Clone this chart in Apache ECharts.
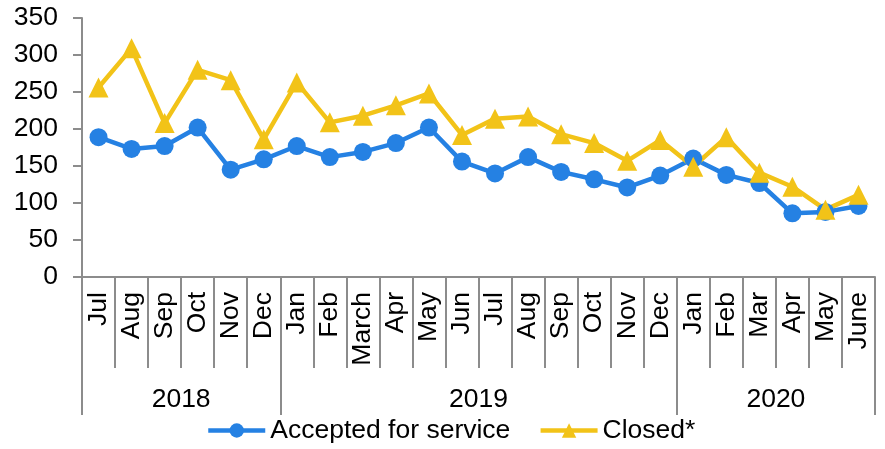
<!DOCTYPE html>
<html>
<head>
<meta charset="utf-8">
<script src="https://cdn.jsdelivr.net/npm/echarts@6/dist/echarts.min.js"></script>
<style>
  html, body { margin: 0; padding: 0; background: #fff; }
  #main { width: 885px; height: 449px; }
</style>
</head>
<body>
<div id="main"></div>
<script>
  var months = ['Jul', 'Aug', 'Sep', 'Oct', 'Nov', 'Dec',
    'Jan', 'Feb', 'March', 'Apr', 'May', 'Jun', 'Jul', 'Aug', 'Sep', 'Oct', 'Nov', 'Dec',
    'Jan', 'Feb', 'Mar', 'Apr', 'May', 'June'];
  var years = ['2018', '2019', '2020'];
  var yearBounds = [0, 6, 18, 24];   // month index where each year starts / ends
  var acceptedData = [189, 173, 177, 202, 145, 159, 177, 162, 169, 181, 202, 156,
    140, 162, 142, 132, 121, 137, 160, 138, 127, 86, 88, 96];
  // note: "closed" is taken by window.closed, so a longer name
  var closedData = [256, 309, 208, 280, 266, 186, 263, 209, 218, 232, 248, 192,
    214, 217, 193, 181, 157, 185, 149, 189, 141, 122, 91, 111];
  var yTicks = [0, 50, 100, 150, 200, 250, 300, 350];

  var font = 'Liberation Sans, Arial, sans-serif';
  var fs = 26.5;
  var axisGray = '#8c8c8c';

  var yearCenters = [];
  for (var i = 0; i < years.length; i++) {
    yearCenters.push((yearBounds[i] + yearBounds[i + 1]) / 2);
  }

  var chart = echarts.init(document.getElementById('main'));
  chart.setOption({
    animation: false,
    grid: { left: 82, right: 10, top: 18, bottom: 172 },
    legend: {
      bottom: 0,
      left: 201,
      itemWidth: 57,
      itemHeight: 18,
      itemGap: 28,
      lineStyle: { width: 4.5 },
      textStyle: { fontFamily: font, fontSize: fs, color: '#000' },
      data: ['Accepted for service', 'Closed*']
    },
    xAxis: [{
      type: 'category',
      data: months,
      boundaryGap: true,
      axisLine: { lineStyle: { color: axisGray, width: 2 } },
      axisTick: { show: true, interval: 0, length: 91, lineStyle: { color: axisGray, width: 2 } },
      axisLabel: {
        interval: 0,
        rotate: 90,
        margin: 15,
        fontFamily: font,
        fontSize: fs,
        color: '#000'
      }
    }, {
      type: 'value',
      position: 'bottom',
      offset: 91,
      min: 0,
      max: 24,
      splitLine: { show: false },
      axisLine: { show: false },
      axisTick: {
        show: true,
        length: 47,
        customValues: yearBounds,
        lineStyle: { color: axisGray, width: 2 }
      },
      axisLabel: {
        customValues: yearCenters,
        margin: 18,
        fontFamily: font,
        fontSize: fs,
        color: '#000',
        formatter: function (v) {
          return years[yearCenters.indexOf(v)];
        }
      }
    }],
    yAxis: {
      type: 'value',
      min: yTicks[0],
      max: yTicks[yTicks.length - 1],
      interval: 50,
      splitLine: { show: false },
      axisLine: { show: true, lineStyle: { color: axisGray, width: 2 } },
      axisTick: { show: true, length: 9, lineStyle: { color: axisGray, width: 2 } },
      axisLabel: { margin: 24, fontFamily: font, fontSize: fs, color: '#000' }
    },
    series: [{
      name: 'Accepted for service',
      type: 'line',
      xAxisIndex: 0,
      data: acceptedData,
      color: '#2581E3',
      symbol: 'circle',
      symbolSize: 18,
      lineStyle: { width: 4.5 }
    }, {
      name: 'Closed*',
      type: 'line',
      xAxisIndex: 0,
      data: closedData,
      color: '#F2C318',
      symbol: 'triangle',
      symbolSize: 20,
      lineStyle: { width: 4.5 }
    }]
  });
</script>
</body>
</html>
